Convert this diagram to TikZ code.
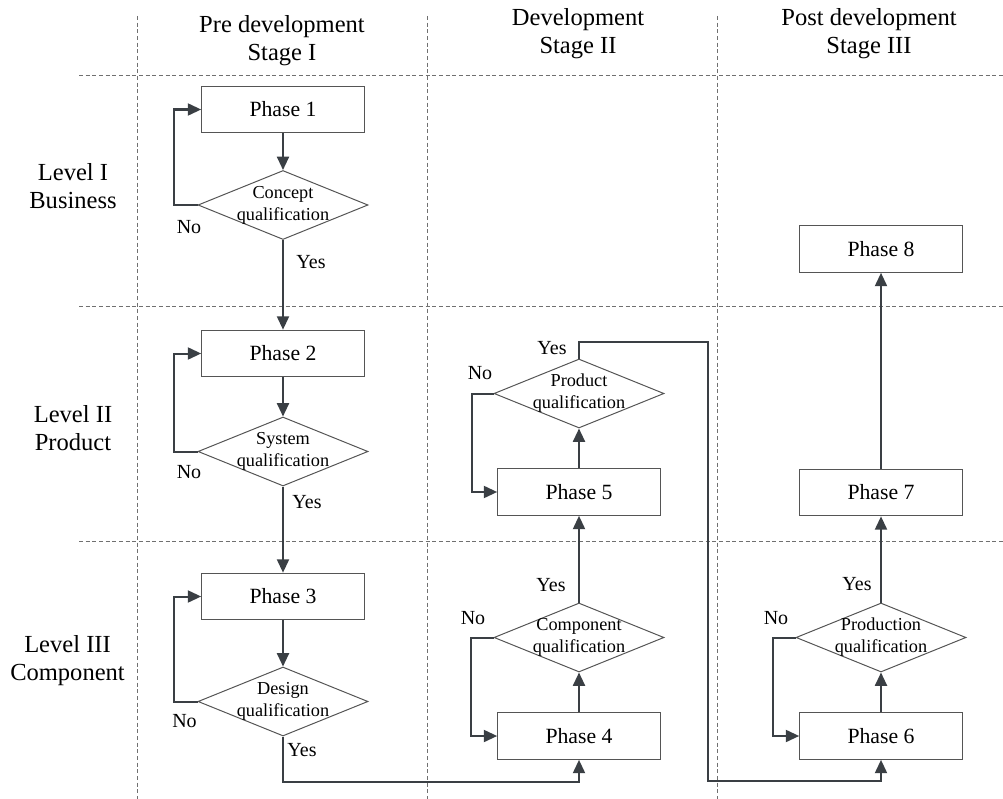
\documentclass[tikz,border=0pt]{standalone}
\usepackage{fontspec}
\setmainfont{Liberation Serif}
\usetikzlibrary{shapes.geometric,arrows.meta}
\definecolor{linecol}{HTML}{3A3F44}
\definecolor{edgecol}{HTML}{555555}
\definecolor{gridcol}{HTML}{707070}
\begin{document}
\begin{tikzpicture}[x=0.75pt,y=-0.75pt,
  grid/.style={draw=gridcol, line width=0.6pt, dash pattern=on 3pt off 2pt},
  phasebox/.style={draw=edgecol, line width=0.75pt, minimum width=122pt, minimum height=35pt,
    inner sep=0pt, font=\fontsize{16.3}{19}\selectfont},
  decision/.style={diamond, draw=edgecol, line width=0.75pt, minimum width=127.5pt,
    minimum height=51.75pt, inner sep=0pt},
  dtext/.style={align=center, font=\fontsize{13.7}{16.5}\selectfont, inner sep=0pt},
  head/.style={align=center, font=\fontsize{18.4}{21}\selectfont, inner sep=0pt},
  answer/.style={font=\fontsize{15}{18}\selectfont, inner sep=0pt},
  conn/.style={draw=linecol, line width=1.5pt, -{Triangle[length=10pt,width=9pt]}},
]
\useasboundingbox (0,0) rectangle (1003,799);

% swimlane grid
\draw[grid] (137,16) -- (137,799);
\draw[grid] (427,16) -- (427,799);
\draw[grid] (717,16) -- (717,799);
\draw[grid] (79,75) -- (1003,75);
\draw[grid] (79,306) -- (1003,306);
\draw[grid] (79,541) -- (1003,541);

% column and row headings
\node[head] (h1) at (282,40.5) {Pre development\\Stage I};
\node[head] (h2) at (578,34) {Development\\Stage II};
\node[head] (h3) at (869,34) {Post development\\Stage III};
\node[head] (l1) at (73,186) {Level I\\Business};
\node[head] (l2) at (73,428) {Level II\\Product};
\node[head] (l3) at (67.5,661) {Level III\\Component};

% phases
\node[phasebox] (p1) at (283,109.5) {Phase 1};
\node[phasebox] (p2) at (283,353.5) {Phase 2};
\node[phasebox] (p3) at (283,596.5) {Phase 3};
\node[phasebox] (p4) at (579,736) {Phase 4};
\node[phasebox] (p5) at (579,492) {Phase 5};
\node[phasebox] (p6) at (881,736) {Phase 6};
\node[phasebox] (p7) at (881,492.5) {Phase 7};
\node[phasebox] (p8) at (881,249) {Phase 8};

% qualification gates
\node[decision] (d1) at (283,205) {};
\node[decision] (d2) at (283,451.5) {};
\node[decision] (d3) at (283,701.5) {};
\node[decision] (d4) at (579,637.5) {};
\node[decision] (d5) at (579,393.5) {};
\node[decision] (d6) at (881,637.5) {};
\node[dtext] (d1t) at (d1) {Concept\\qualification};
\node[dtext] (d2t) at (d2) {System\\qualification};
\node[dtext] (d3t) at (d3) {Design\\qualification};
\node[dtext] (d4t) at (d4) {Component\\qualification};
\node[dtext] (d5t) at (d5) {Product\\qualification};
\node[dtext] (d6t) at (d6) {Production\\qualification};

% routing points of the long hand-over line
\coordinate (r1) at (708,342);
\coordinate (r2) at (708,781);

% stage I flow
\draw[conn] (p1) -- (d1);
\draw[conn] (d1.west) -- ++(-24,0) |- (p1.west);
\draw[conn] (d1.south) -- (p2.north);
\draw[conn] (p2) -- (d2);
\draw[conn] (d2.west) -- ++(-24,0) |- (p2.west);
\draw[conn] (d2.south) -- (p3.north);
\draw[conn] (p3) -- (d3);
\draw[conn] (d3.west) -- ++(-24,0) |- (p3.west);
\draw[conn] (d3.south) -- ++(0,45) -| (p4.south);

% stage II flow
\draw[conn] (p4) -- (d4);
\draw[conn] (d4.west) -- ++(-23,0) |- (p4.west);
\draw[conn] (d4.north) -- (p5.south);
\draw[conn] (p5) -- (d5);
\draw[conn] (d5.west) -- ++(-22,0) |- (p5.west);
\draw[conn] (d5.north) |- (r1) -- (r2) -| (p6.south);

% stage III flow
\draw[conn] (p6) -- (d6);
\draw[conn] (d6.west) -- ++(-23,0) |- (p6.west);
\draw[conn] (d6.north) -- (p7.south);
\draw[conn] (p7) -- (p8);

% answers
\node[answer] (n1) at (189,227) {No};
\node[answer] (n2) at (189,472) {No};
\node[answer] (n3) at (184.5,721) {No};
\node[answer] (n4) at (473,618) {No};
\node[answer] (n5) at (480,373) {No};
\node[answer] (n6) at (776,618) {No};
\node[answer] (y1) at (311,262) {Yes};
\node[answer] (y2) at (307,502) {Yes};
\node[answer] (y3) at (302,750) {Yes};
\node[answer] (y4) at (551,585) {Yes};
\node[answer] (y5) at (552,348) {Yes};
\node[answer] (y6) at (857,584) {Yes};
\end{tikzpicture}
\end{document}
